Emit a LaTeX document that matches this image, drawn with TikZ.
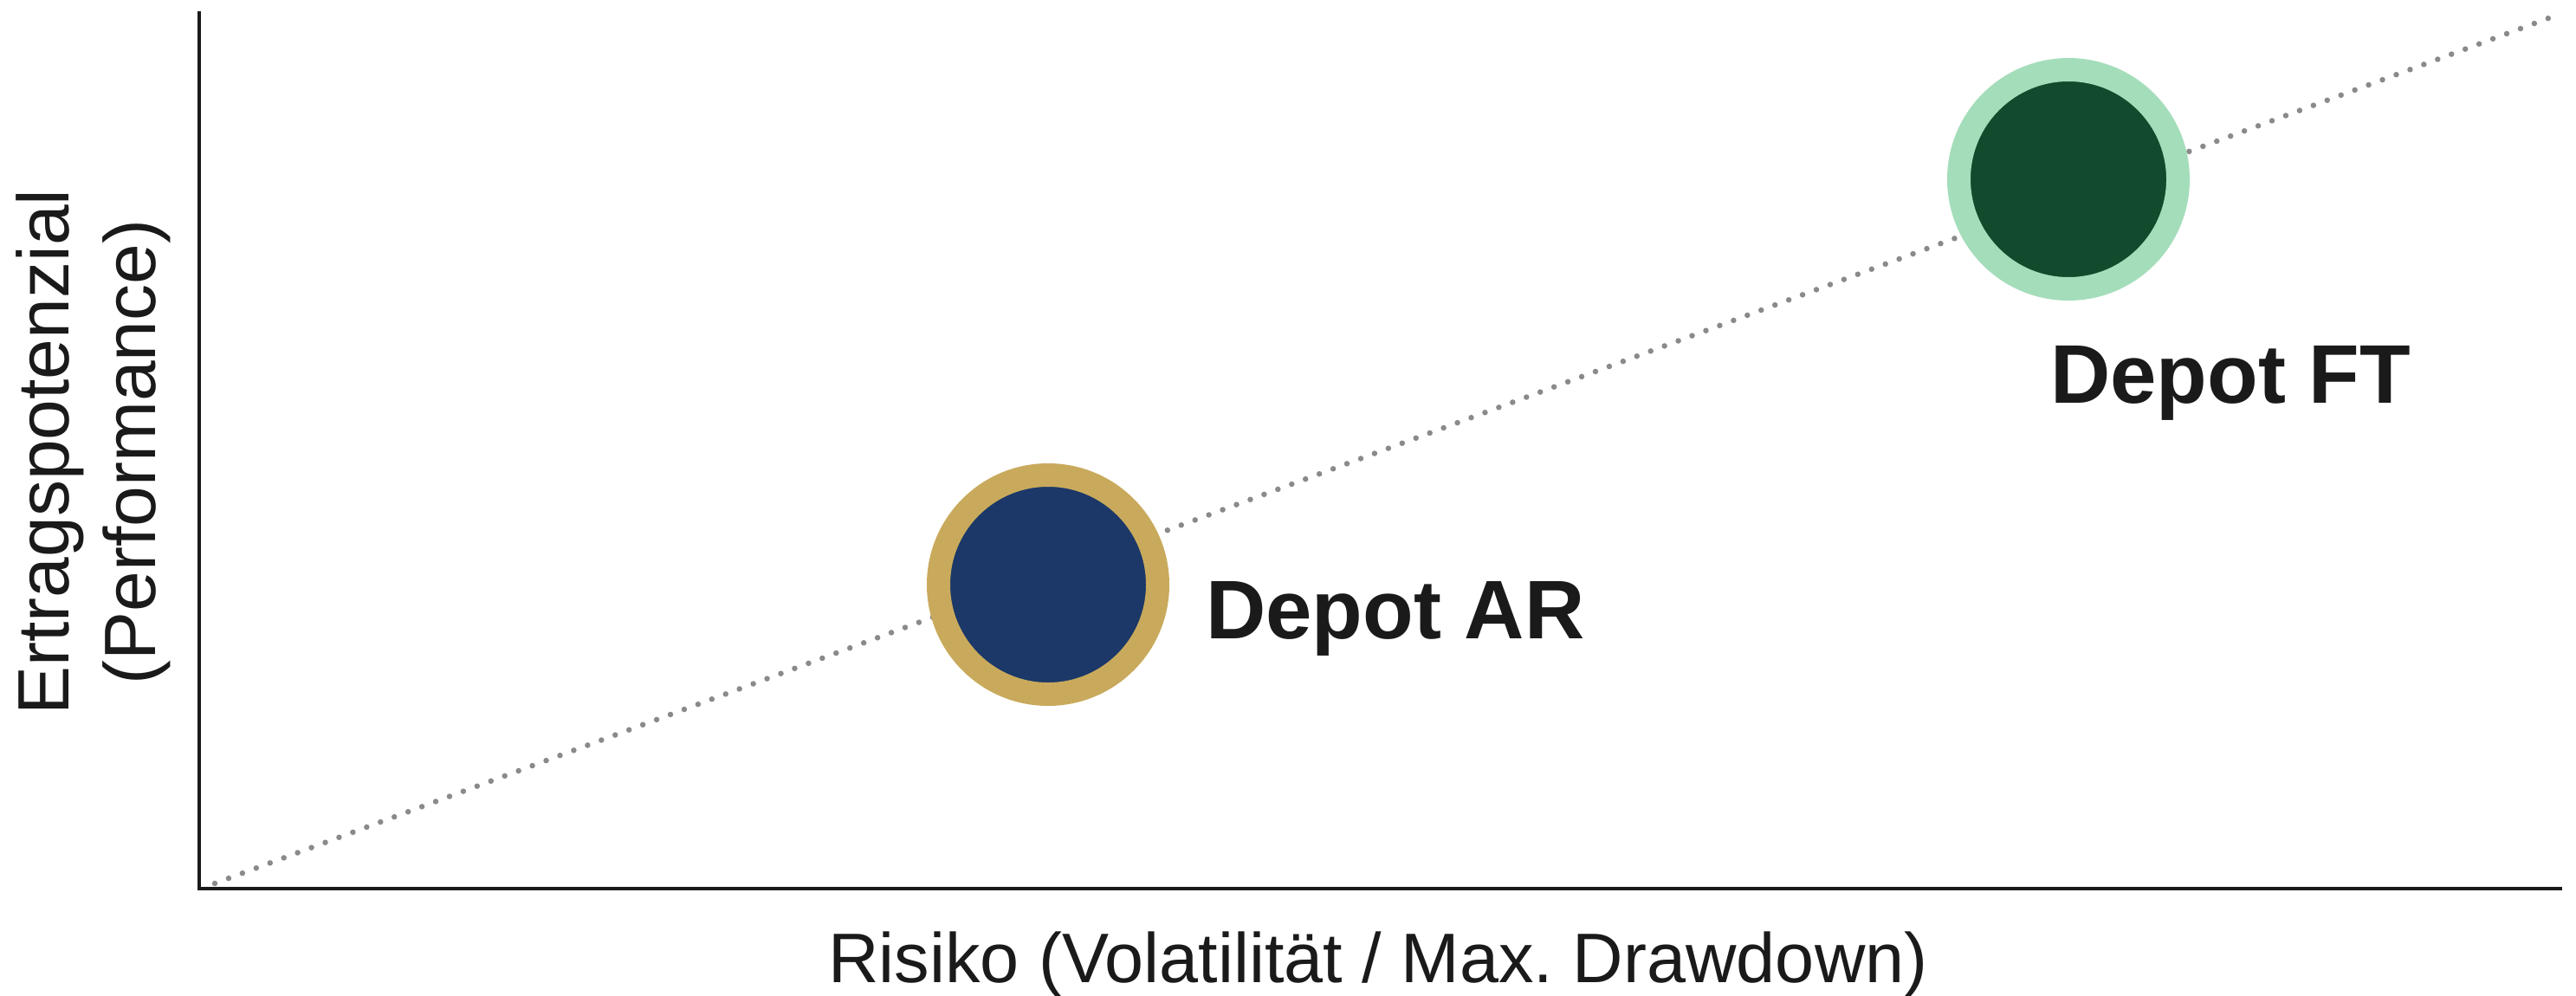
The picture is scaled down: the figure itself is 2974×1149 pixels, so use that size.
\documentclass[tikz,border=0pt]{standalone}
\usepackage{fontspec}
\setmainfont{Liberation Sans}
\definecolor{axiscol}{HTML}{1A1A1A}
\definecolor{dotcol}{HTML}{8A8A8A}
\definecolor{gold}{HTML}{C9AA5C}
\definecolor{navy}{HTML}{1B3868}
\definecolor{lightgreen}{HTML}{A4DDBA}
\definecolor{darkgreen}{HTML}{124A2D}
\definecolor{txt}{HTML}{1A1A1A}
\begin{document}
\begin{tikzpicture}[x=1pt,y=-1pt,
  axisline/.style={draw=axiscol,line width=4pt},
  trendline/.style={draw=dotcol,line width=6.5pt,line cap=round,dash pattern=on 0pt off 17pt},
  depot/.style={circle,inner sep=0pt,minimum size=253pt,line width=27pt},
  depotlabel/.style={anchor=base west,inner sep=0pt,text=txt,font=\bfseries\fontsize{96}{110}\selectfont},
  axislabel/.style={inner sep=0pt,text=txt,font=\fontsize{84}{100}\selectfont}
]
\useasboundingbox (0,0) rectangle (2974,1149);
\fill[white] (0,0) rectangle (2974,1149);
% axes
\coordinate (ytop) at (230,13);
\coordinate (origin) at (230,1026);
\coordinate (xend) at (2958,1026);
\draw[axisline,line cap=butt,line join=miter] (ytop) -- (origin) -- (xend);
% trend line
\coordinate (ts) at (248,1020);
\coordinate (te) at (2945,20);
\draw[trendline] (ts) -- (te);
% circles
\node[depot,draw=gold,fill=navy] (ar) at (1210,675) {};
\node[depot,draw=lightgreen,fill=darkgreen] (ft) at (2388,207) {};
% labels
\node[depotlabel] (arlabel) at (1392,737) {Depot AR};
\node[depotlabel] (ftlabel) at (2367,465) {Depot FT};
\node[axislabel,anchor=base,font=\fontsize{81}{100}\selectfont] (xlabel) at (1591,1134) {Risiko (Volatilität / Max.\ Drawdown)};
\node[axislabel,rotate=90,align=center] (ylabel) at (108,522) {Ertragspotenzial\\(Performance)};
\end{tikzpicture}
\end{document}
